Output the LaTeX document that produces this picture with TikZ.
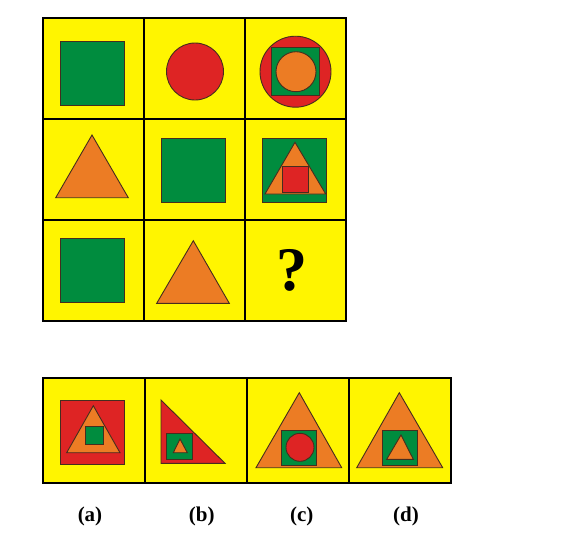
\documentclass[tikz,border=0pt]{standalone}
\usepackage{fontspec}
\setmainfont{Liberation Serif}
\definecolor{yel}{RGB}{255,245,0}
\definecolor{grn}{RGB}{0,140,62}
\definecolor{rd}{RGB}{222,36,36}
\definecolor{org}{RGB}{236,124,36}
\definecolor{edge}{RGB}{70,45,30}
\begin{document}
\begin{tikzpicture}[
                x = 1pt, y = -1pt,
                cell/.style = {draw=black, line width=1.6pt, fill=yel, inner sep=0pt, minimum width=101pt, minimum height=101pt},
                opt/.style = {cell, minimum width=102pt, minimum height=105pt},
                sq/.style = {draw=edge, line width=0.9pt, fill=grn, inner sep=0pt, minimum size=#1},
                circ/.style = {draw=edge, line width=0.9pt, fill=rd, circle, inner sep=0pt, minimum size=#1},
                tri/.style = {draw=edge, line width=0.9pt, fill=org, line join=miter},
                lbl/.style = {font=\bfseries\fontsize{21}{21}\selectfont},
            ]
            \useasboundingbox (0,0) rectangle (566,558);

            % question grid
            \node (c11) [cell] at (93.5, 68.5){};
            \node (c12) [cell] at (194.5, 68.5){};
            \node (c13) [cell] at (295.5, 68.5){};
            \node (c21) [cell] at (93.5, 169.5){};
            \node (c22) [cell] at (194.5, 169.5){};
            \node (c23) [cell] at (295.5, 169.5){};
            \node (c31) [cell] at (93.5, 270.5){};
            \node (c32) [cell] at (194.5, 270.5){};
            \node (c33) [cell] at (295.5, 270.5){};

            \node (sq11) [sq=64pt] at (92.5, 73){};
            \node (ci12) [circ=57pt] at (195, 71.5){};
            \node (ci13) [circ=71pt] at (295.5, 71.7){};
            \node (sq13) [sq=48pt] at (295.5, 71.7){};
            \node (in13) [circ=40pt, fill=org] at (296, 71.7){};

            \path[tri] (55.7,197.7) -- (128.3,197.7) -- (92,135) -- cycle;
            \node (sq22) [sq=64pt] at (193.7, 170.2){};
            \node (sq23) [sq=64pt] at (294.7, 170.3){};
            \path[tri] (265,194) -- (325.7,194) -- (295,142.3) -- cycle;
            \node (in23) [sq=26pt, fill=rd] at (295.3, 179.5){};

            \node (sq31) [sq=64pt] at (92.5, 270.7){};
            \path[tri] (156.7,303.3) -- (229.3,303.3) -- (193.3,240.7) -- cycle;
            \node (qm) [font=\bfseries\fontsize{62}{62}\selectfont] at (291.5, 270.5){?};

            % answer options
            \node (oa) [opt] at (94, 430.5){};
            \node (ob) [opt] at (196, 430.5){};
            \node (oc) [opt] at (298, 430.5){};
            \node (od) [opt] at (400, 430.5){};

            \node (sqa) [sq=64pt, fill=rd] at (92.5, 432){};
            \path[tri] (66.7,452.7) -- (120,452.7) -- (93.3,405.7) -- cycle;
            \node (ina) [sq=18.5pt] at (94.2, 435.5){};

            \path[tri, fill=rd] (161,400) -- (161,463.3) -- (225,463.3) -- cycle;
            \node (sqb) [sq=26.5pt] at (179.3, 446.3){};
            \path[tri] (173.3,452.7) -- (187.3,452.7) -- (180,439) -- cycle;

            \path[tri] (256,467.7) -- (341.7,467.7) -- (299.3,392.7) -- cycle;
            \node (sqc) [sq=35pt] at (299.2, 447.5){};
            \node (inc) [circ=28pt] at (300, 447.3){};

            \path[tri] (356.7,467.7) -- (442.7,467.7) -- (399.3,392.7) -- cycle;
            \node (sqd) [sq=35pt] at (400, 447.5){};
            \path[tri] (386.7,459.3) -- (413.3,459.3) -- (401,435) -- cycle;

            \node (la) [lbl] at (90, 516){(a)};
            \node (lb) [lbl] at (201.7, 516){(b)};
            \node (lc) [lbl] at (301.7, 516){(c)};
            \node (ld) [lbl] at (406, 516){(d)};
        \end{tikzpicture}
\end{document}
